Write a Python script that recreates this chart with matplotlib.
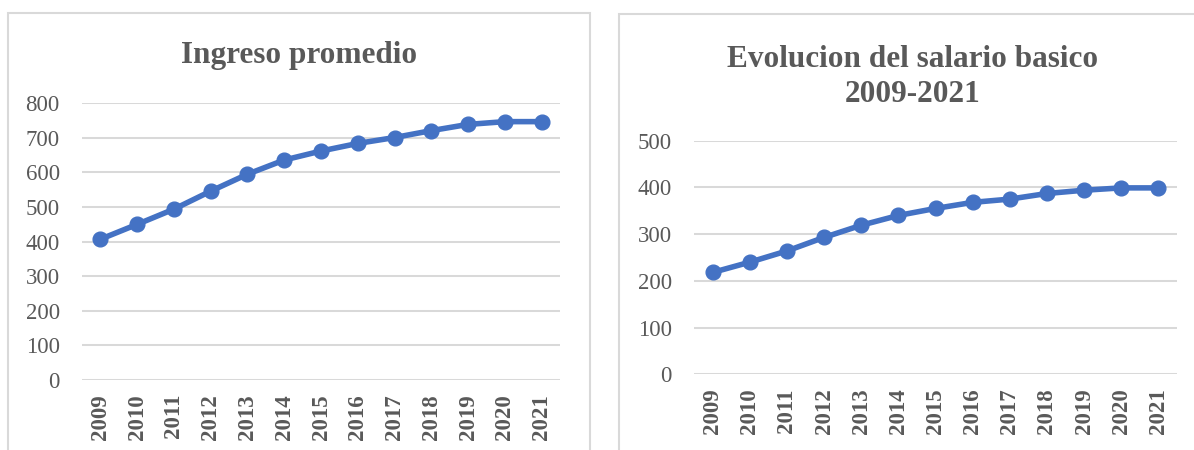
import matplotlib
matplotlib.use("Agg")
import matplotlib.pyplot as plt
from matplotlib.patches import Rectangle

years = ["2009", "2010", "2011", "2012", "2013", "2014", "2015",
         "2016", "2017", "2018", "2019", "2020", "2021"]
ingreso = [407, 450, 494, 546, 595, 636, 662, 684, 701, 721, 739, 747, 747]
salario = [218, 240, 264, 293, 319, 340, 355, 368, 375, 387, 394, 399, 399]

title_left = "Ingreso promedio"
title_right_1 = "Evolucion del salario basico"
title_right_2 = "2009-2021"

LINE = "#4472C4"
GRID = "#D9D9D9"
TXT = "#595959"
FONT = "Liberation Serif"

plt.rcParams["font.family"] = [FONT, "DejaVu Serif"]

W, H = 1194, 450
fig = plt.figure(figsize=(W / 100, H / 100), dpi=100)

def px_rect(x0, x1, y_top, y_bot):
    return [x0 / W, 1 - y_bot / H, (x1 - x0) / W, (y_bot - y_top) / H]

# panel borders
for (x0, y0, x1, y1) in [(8, 13, 590, 470), (619, 14, 1215, 470)]:
    fig.patches.append(Rectangle((x0 / W, 1 - y1 / H), (x1 - x0) / W, (y1 - y0) / H,
                                 transform=fig.transFigure, fill=False,
                                 edgecolor=GRID, linewidth=1.5, zorder=0))

def draw(ax, values, ymax, step):
    x = list(range(len(years)))
    ax.plot(x, values, color=LINE, linewidth=4.0, marker="o", markersize=10.6,
            clip_on=False, zorder=3)
    ax.set_xlim(-0.5, len(years) - 0.5)
    ax.set_ylim(0, ymax)
    ax.set_yticks(list(range(0, ymax + 1, step)))
    ax.set_xticks(x)
    ax.set_xticklabels(years, rotation=90, fontweight="bold", fontsize=16.5,
                       color=TXT, va="top", ha="center")
    for lab in ax.get_yticklabels():
        lab.set_fontsize(16.5)
        lab.set_color(TXT)
    ax.tick_params(axis="both", length=0)
    ax.tick_params(axis="y", pad=16)
    ax.tick_params(axis="x", pad=10)
    ax.grid(axis="y", color=GRID, linewidth=1.45)
    ax.set_axisbelow(True)
    for s in ax.spines.values():
        s.set_visible(False)
    ax.set_facecolor("none")

ax1 = fig.add_axes(px_rect(82, 560, 103.3, 380))
draw(ax1, ingreso, 800, 100)

ax2 = fig.add_axes(px_rect(694, 1177, 140.7, 374.3))
draw(ax2, salario, 500, 100)

fig.text(299 / W, 1 - 63.3 / H, title_left, ha="center", va="baseline",
         fontsize=22.5, fontweight="bold", color=TXT)
fig.text(912.5 / W, 1 - 66.7 / H, title_right_1, ha="center", va="baseline",
         fontsize=22.5, fontweight="bold", color=TXT)
fig.text(912.5 / W, 1 - 101.7 / H, title_right_2, ha="center", va="baseline",
         fontsize=22.5, fontweight="bold", color=TXT)

fig.savefig("out.png", dpi=100, facecolor="white")
